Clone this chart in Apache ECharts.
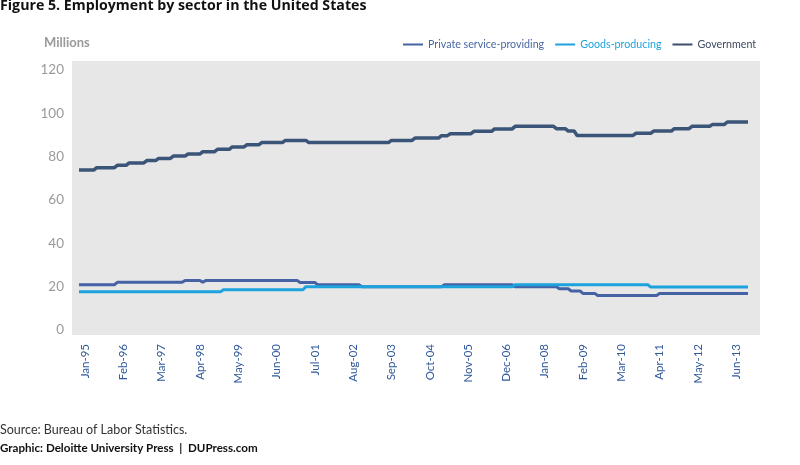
<!DOCTYPE html>
<html>
<head>
<meta charset="utf-8">
<script src="https://cdn.jsdelivr.net/npm/echarts@6/dist/echarts.min.js"></script>
<style>
html,body{margin:0;padding:0;background:#fff;}
#chart{width:800px;height:465px;}
</style>
</head>
<body>
<div id="chart"></div>
<script>
// ---- Data (monthly Jan-95 .. Dec-13) ----
const monthNames = ['Jan','Feb','Mar','Apr','May','Jun','Jul','Aug','Sep','Oct','Nov','Dec'];
const yearLabels = ['95','96','97','98','99','00','01','02','03','04','05','06','07','08','09','10','11','12','13'];
const seriesNames = ['Private service-providing','Goods-producing','Government'];
const yTicks = [0, 20, 40, 60, 80, 100, 120];

const privateService = [
  20.9,20.9,20.9,20.9,20.9,20.9,20.9,20.9,20.9,20.9,20.9,20.9,
  20.9,22.0,22.0,22.0,22.0,22.0,22.0,22.0,22.0,22.0,22.0,22.0,
  22.0,22.0,22.0,22.0,22.0,22.0,22.0,22.0,22.0,22.0,22.0,22.0,
  22.9,22.9,22.9,22.9,22.9,22.9,22.0,22.9,22.9,22.9,22.9,22.9,
  22.9,22.9,22.9,22.9,22.9,22.9,22.9,22.9,22.9,22.9,22.9,22.9,
  22.9,22.9,22.9,22.9,22.9,22.9,22.9,22.9,22.9,22.9,22.9,22.9,
  22.9,22.9,22.9,21.9,21.9,21.9,21.9,21.9,21.9,20.9,20.9,20.9,
  20.9,20.9,20.9,20.9,20.9,20.9,20.9,20.9,20.9,20.9,20.9,20.9,
  20.0,20.0,20.0,20.0,20.0,20.0,20.0,20.0,20.0,20.0,20.0,20.0,
  20.0,20.0,20.0,20.0,20.0,20.0,20.0,20.0,20.0,20.0,20.0,20.0,
  20.0,20.0,20.0,20.0,20.9,20.9,20.9,20.9,20.9,20.9,20.9,20.9,
  20.9,20.9,20.9,20.9,20.9,20.9,20.9,20.9,20.9,20.9,20.9,20.9,
  20.9,20.9,20.9,20.9,20.0,20.0,20.0,20.0,20.0,20.0,20.0,20.0,
  20.0,20.0,20.0,20.0,20.0,20.0,20.0,19.0,19.0,19.0,19.0,18.0,
  18.0,18.0,18.0,16.9,16.9,16.9,16.9,16.9,15.9,15.9,15.9,15.9,
  15.9,15.9,15.9,15.9,15.9,15.9,15.9,15.9,15.9,15.9,15.9,15.9,
  15.9,15.9,15.9,15.9,15.9,16.9,16.9,16.9,16.9,16.9,16.9,16.9,
  16.9,16.9,16.9,16.9,16.9,16.9,16.9,16.9,16.9,16.9,16.9,16.9,
  16.9,16.9,16.9,16.9,16.9,16.9,16.9,16.9,16.9,16.9,16.9,16.9
];

const goodsProducing = [
  17.6,17.6,17.6,17.6,17.6,17.6,17.6,17.6,17.6,17.6,17.6,17.6,
  17.6,17.6,17.6,17.6,17.6,17.6,17.6,17.6,17.6,17.6,17.6,17.6,
  17.6,17.6,17.6,17.6,17.6,17.6,17.6,17.6,17.6,17.6,17.6,17.6,
  17.6,17.6,17.6,17.6,17.6,17.6,17.6,17.6,17.6,17.6,17.6,17.6,
  17.6,18.6,18.6,18.6,18.6,18.6,18.6,18.6,18.6,18.6,18.6,18.6,
  18.6,18.6,18.6,18.6,18.6,18.6,18.6,18.6,18.6,18.6,18.6,18.6,
  18.6,18.6,18.6,18.6,18.6,20.0,20.0,20.0,20.0,20.0,20.0,20.0,
  20.0,20.0,20.0,20.0,20.0,20.0,20.0,20.0,20.0,20.0,20.0,20.0,
  20.0,20.0,20.0,20.0,20.0,20.0,20.0,20.0,20.0,20.0,20.0,20.0,
  20.0,20.0,20.0,20.0,20.0,20.0,20.0,20.0,20.0,20.0,20.0,20.0,
  20.0,20.0,20.0,20.0,20.0,20.0,20.0,20.0,20.0,20.0,20.0,20.0,
  20.0,20.0,20.0,20.0,20.0,20.0,20.0,20.0,20.0,20.0,20.0,20.0,
  20.0,20.0,20.0,20.0,20.9,20.9,20.9,20.9,20.9,20.9,20.9,20.9,
  20.9,20.9,20.9,20.9,20.9,20.9,20.9,20.9,20.9,20.9,20.9,20.9,
  20.9,20.9,20.9,20.9,20.9,20.9,20.9,20.9,20.9,20.9,20.9,20.9,
  20.9,20.9,20.9,20.9,20.9,20.9,20.9,20.9,20.9,20.9,20.9,20.9,
  20.9,20.9,19.8,19.8,19.8,19.8,19.8,19.8,19.8,19.8,19.8,19.8,
  19.8,19.8,19.8,19.8,19.8,19.8,19.8,19.8,19.8,19.8,19.8,19.8,
  19.8,19.8,19.8,19.8,19.8,19.8,19.8,19.8,19.8,19.8,19.8,19.8
];

const government = [
  73.8,73.8,73.8,73.8,73.8,73.8,74.9,74.9,74.9,74.9,74.9,74.9,
  74.9,76.0,76.0,76.0,76.0,77.1,77.1,77.1,77.1,77.1,77.1,78.2,
  78.2,78.2,78.2,79.2,79.2,79.2,79.2,79.2,80.3,80.3,80.3,80.3,
  80.3,81.2,81.2,81.2,81.2,81.2,82.3,82.3,82.3,82.3,82.3,83.4,
  83.4,83.4,83.4,83.4,84.5,84.5,84.5,84.5,84.5,85.5,85.5,85.5,
  85.5,85.5,86.5,86.5,86.5,86.5,86.5,86.5,86.5,86.5,87.5,87.5,
  87.5,87.5,87.5,87.5,87.5,87.5,86.5,86.5,86.5,86.5,86.5,86.5,
  86.5,86.5,86.5,86.5,86.5,86.5,86.5,86.5,86.5,86.5,86.5,86.5,
  86.5,86.5,86.5,86.5,86.5,86.5,86.5,86.5,86.5,86.5,87.5,87.5,
  87.5,87.5,87.5,87.5,87.5,87.5,88.6,88.6,88.6,88.6,88.6,88.6,
  88.6,88.6,88.6,89.7,89.7,89.7,90.6,90.6,90.6,90.6,90.6,90.6,
  90.6,90.6,91.7,91.7,91.7,91.7,91.7,91.7,91.7,92.8,92.8,92.8,
  92.8,92.8,92.8,92.8,94.0,94.0,94.0,94.0,94.0,94.0,94.0,94.0,
  94.0,94.0,94.0,94.0,94.0,94.0,92.9,92.9,92.9,92.9,91.8,91.8,
  91.8,89.8,89.8,89.8,89.8,89.8,89.8,89.8,89.8,89.8,89.8,89.8,
  89.8,89.8,89.8,89.8,89.8,89.8,89.8,89.8,89.8,90.8,90.8,90.8,
  90.8,90.8,90.8,91.8,91.8,91.8,91.8,91.8,91.8,91.8,92.9,92.9,
  92.9,92.9,92.9,92.9,94.0,94.0,94.0,94.0,94.0,94.0,94.0,94.9,
  94.9,94.9,94.9,94.9,96.0,96.0,96.0,96.0,96.0,96.0,96.0,96.0
];

const categories = [];
yearLabels.forEach(y => monthNames.forEach(m => categories.push(m + '-' + y)));

// ---- Styles ----
const FONT = 'Lato, "Open Sans", sans-serif';
const FONT_B = '"Open Sans", Lato, sans-serif';
const colPrivate = '#4462a4';
const colGoods = '#1ca3dd';
const colGov = '#3b5578';

const chart = echarts.init(document.getElementById('chart'), null, {renderer: 'canvas'});
chart.setOption({
  animation: false,
  backgroundColor: '#ffffff',
  textStyle: {fontFamily: FONT},
  grid: {left: 79, right: 52, top: 70, bottom: 135, containLabel: false},
  legend: {
    left: 403, top: 39, padding: 0,
    icon: 'rect', itemWidth: 20, itemHeight: 2, itemGap: 11,
    textStyle: {fontFamily: FONT, fontSize: 10.7},
    data: [
      {name: seriesNames[0], textStyle: {color: '#4a67a5'}},
      {name: seriesNames[1], textStyle: {color: '#1ca3dd'}},
      {name: seriesNames[2], textStyle: {color: '#3e4b62'}}
    ]
  },
  graphic: [
    {type: 'rect', z: -10, silent: true, shape: {x: 72, y: 61, width: 688, height: 274}, style: {fill: '#e7e7e7'}},
    {type: 'text', left: 0, top: -1, style: {text: 'Figure 5. Employment by sector in the United States', font: 'bold 14.2px ' + FONT_B, fill: '#111'}},
    {type: 'text', left: 44, top: 36, style: {text: 'Millions', font: 'bold 13px ' + FONT, fill: '#9a9a9a'}},
    {type: 'text', left: 0, top: 423, style: {text: 'Source: Bureau of Labor Statistics.', font: '12.5px ' + FONT, fill: '#333'}},
    {type: 'text', left: 0, top: 442, style: {text: 'Graphic: Deloitte University Press  |  DUPress.com', font: 'bold 11.6px ' + FONT, fill: '#111'}}
  ],
  xAxis: {
    type: 'category',
    data: categories,
    boundaryGap: false,
    axisLine: {show: false},
    axisTick: {show: false},
    splitLine: {show: false},
    axisLabel: {
      interval: 12, rotate: 90, margin: 14,
      color: '#30589a', fontSize: 11.5, fontFamily: FONT,
      verticalAlign: 'top', lineHeight: 12
    }
  },
  yAxis: {
    type: 'value',
    min: yTicks[0], max: yTicks[yTicks.length - 1], interval: 20,
    axisLine: {show: false},
    axisTick: {show: false},
    splitLine: {show: false},
    axisLabel: {color: '#9a9a9a', fontSize: 13.5, fontFamily: FONT, margin: 15}
  },
  series: [
    {name: seriesNames[0], type: 'line', data: privateService, showSymbol: false, symbol: 'none',
      itemStyle: {color: colPrivate}, lineStyle: {color: colPrivate, width: 3}, z: 2},
    {name: seriesNames[1], type: 'line', data: goodsProducing, showSymbol: false, symbol: 'none',
      itemStyle: {color: colGoods}, lineStyle: {color: colGoods, width: 3}, z: 3},
    {name: seriesNames[2], type: 'line', data: government, showSymbol: false, symbol: 'none',
      itemStyle: {color: '#3d4d6a'}, lineStyle: {color: colGov, width: 3.5}, z: 4}
  ]
});
</script>
</body>
</html>
